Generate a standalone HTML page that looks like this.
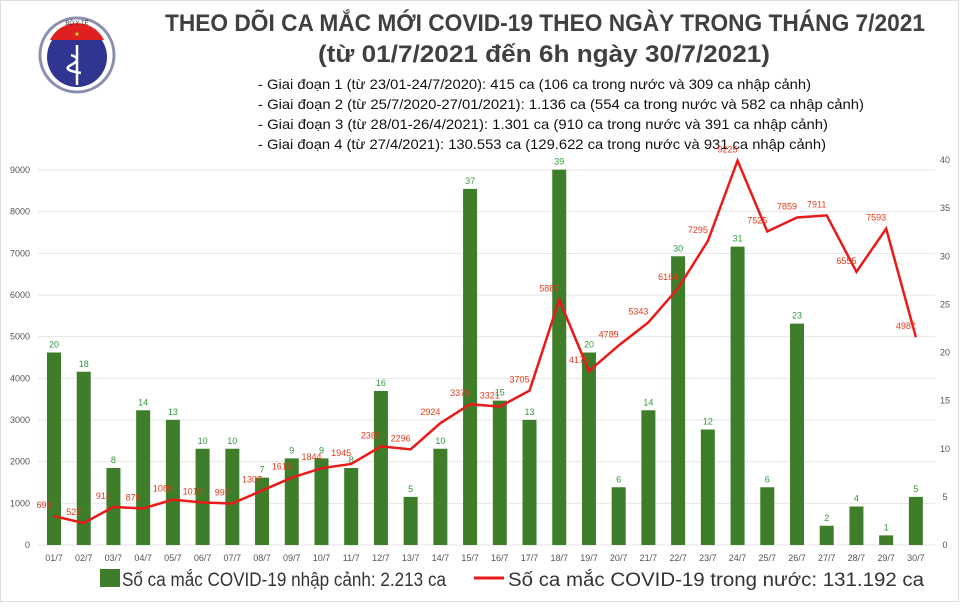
<!DOCTYPE html>
<html><head><meta charset="utf-8"><style>
body{margin:0;background:#fff;}
svg text{font-family:"Liberation Sans","DejaVu Sans",sans-serif;}
</style></head><body>
<svg width="960" height="603" viewBox="0 0 960 603" xmlns="http://www.w3.org/2000/svg">
<rect x="0.5" y="0.5" width="958" height="601" fill="#fff" stroke="#ddd"/>
<g>
<circle cx="77" cy="55" r="37" fill="#fff" stroke="#8a8fb0" stroke-width="3"/>
<circle cx="77" cy="57" r="30" fill="#2f3590"/>
<path d="M50 40 A30 30 0 0 1 104 40 Z" fill="#e02020"/>
<text x="77" y="36" font-size="6" fill="#ff0" text-anchor="middle">★</text>
<path d="M77 45 L77 85 M71 55 q12 4 0 10 q-10 5 10 8" stroke="#fff" stroke-width="2.5" fill="none"/>
<text x="77" y="25" font-size="6" fill="#333" text-anchor="middle">BỘ Y TẾ</text>
</g>
<g font-weight="bold" fill="#404040">
<text x="165" y="31" font-size="24" textLength="760" lengthAdjust="spacingAndGlyphs">THEO DÕI CA MẮC MỚI COVID-19 THEO NGÀY TRONG THÁNG 7/2021</text>
<text x="318" y="62" font-size="24" textLength="452" lengthAdjust="spacingAndGlyphs">(từ 01/7/2021 đến 6h ngày 30/7/2021)</text>
</g>
<g font-size="14" fill="#111">
<text x="258" y="89" textLength="553" lengthAdjust="spacingAndGlyphs">- Giai đoạn 1 (từ 23/01-24/7/2020): 415 ca (106 ca trong nước và 309 ca nhập cảnh)</text>
<text x="258" y="109" textLength="606" lengthAdjust="spacingAndGlyphs">- Giai đoạn 2 (từ 25/7/2020-27/01/2021): 1.136 ca (554 ca trong nước và 582 ca nhập cảnh)</text>
<text x="258" y="129" textLength="570" lengthAdjust="spacingAndGlyphs">- Giai đoạn 3 (từ 28/01-26/4/2021): 1.301 ca (910 ca trong nước và 391 ca nhập cảnh)</text>
<text x="258" y="149" textLength="568" lengthAdjust="spacingAndGlyphs">- Giai đoạn 4 (từ 27/4/2021): 130.553 ca (129.622 ca trong nước và 931 ca nhập cảnh)</text>
</g>
<g id="grid" stroke="#e6e6e6" stroke-width="1"></g>
<g id="ylab" font-size="9" fill="#555"></g>
<g id="bars"></g>
<g id="line"></g>
<g id="xlab" font-size="9" fill="#555" text-anchor="middle"></g>
<rect x="100" y="569" width="20" height="18" fill="#3e7d2a"/>
<text x="122" y="586" font-size="19" fill="#333" textLength="324" lengthAdjust="spacingAndGlyphs">Số ca mắc COVID-19 nhập cảnh: 2.213 ca</text>
<line x1="474" y1="578" x2="504" y2="578" stroke="#e81a1a" stroke-width="3"/>
<text x="508" y="586" font-size="19" fill="#333" textLength="416" lengthAdjust="spacingAndGlyphs">Số ca mắc COVID-19 trong nước: 131.192 ca</text>
<script>
const NS="http://www.w3.org/2000/svg";
function el(p,t,a,txt){const e=document.createElementNS(NS,t);for(const k in a)e.setAttribute(k,a[k]);if(txt!==undefined)e.textContent=txt;document.getElementById(p).appendChild(e);return e;}
const y0=545, ppk=375/9000, ppr=385/40;
for(let v=0;v<=9000;v+=1000){const y=y0-v*ppk;el('grid','line',{x1:38,x2:935,y1:y,y2:y});el('ylab','text',{x:30,y:y+3,'text-anchor':'end'},v);}
for(let v=0;v<=40;v+=5){const y=y0-v*ppr;el('ylab','text',{x:945,y:y+3,'text-anchor':'middle'},v);}
const bars=[20,18,8,14,13,10,10,7,9,9,8,16,5,10,37,15,13,39,20,6,14,30,12,31,6,23,2,4,1,5];
const dom=[693,527,914,876,1089,1019,997,1307,1616,1844,1945,2367,2296,2924,3379,3321,3705,5887,4175,4789,5343,6164,7295,9225,7525,7859,7911,6555,7593,4987];
const X=i=>54+i*29.72;
let pts=[];
bars.forEach((b,i)=>{const x=X(i),h=b*ppr;el('bars','rect',{x:x-7,y:y0-h,width:14,height:h,fill:'#3e7d2a'});
el('bars','text',{x:x,y:y0-h-5,'font-size':9,fill:'#2e9a3a','text-anchor':'middle'},b);
el('xlab','text',{x:x,y:561},String(i+1).padStart(2,'0')+'/7');
pts.push(x+','+(y0-dom[i]*ppk));});
el('line','polyline',{points:pts.join(' '),fill:'none',stroke:'#e81a1a','stroke-width':2.5});
dom.forEach((d,i)=>{const x=X(i),y=y0-d*ppk;el('line','text',{x:x-10,y:y-8,'font-size':9,fill:'#e8391a','text-anchor':'middle'},d);});
</script>
</svg>
</body></html>
